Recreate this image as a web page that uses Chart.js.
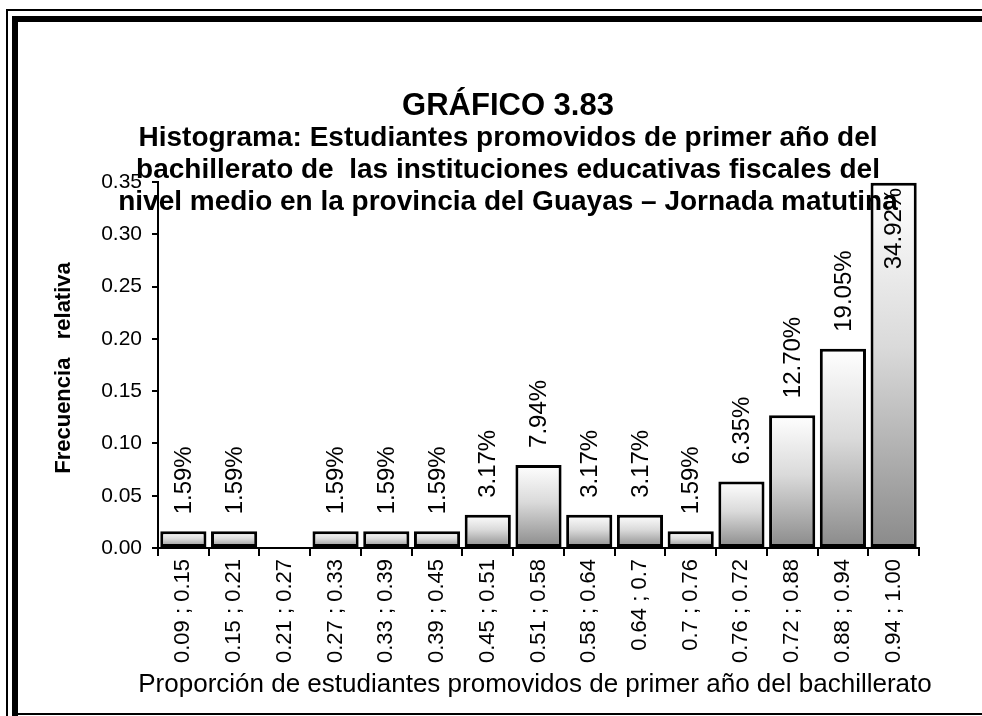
<!DOCTYPE html>
<html>
<head>
<meta charset="utf-8">
<title>Gráfico 3.83</title>
<script src="https://cdn.jsdelivr.net/npm/chart.js@4.4.1/dist/chart.umd.min.js"></script>
<style>
    html, body { margin: 0; padding: 0; background: #fff; }
    #wrap { width: 982px; height: 716px; }
</style>
</head>
<body>
<div id="wrap"><canvas id="histChart" width="982" height="716"></canvas></div>
<script>
// Data
const categories = [
    "0.09 ; 0.15", "0.15 ; 0.21", "0.21 ; 0.27", "0.27 ; 0.33", "0.33 ; 0.39",
    "0.39 ; 0.45", "0.45 ; 0.51", "0.51 ; 0.58", "0.58 ; 0.64", "0.64 ; 0.7",
    "0.7 ; 0.76", "0.76 ; 0.72", "0.72 ; 0.88", "0.88 ; 0.94", "0.94 ; 1.00"
];
const relFreq = [
    0.0159, 0.0159, 0, 0.0159, 0.0159,
    0.0159, 0.0317, 0.0794, 0.0317, 0.0317,
    0.0159, 0.0635, 0.1270, 0.1905, 0.3492
];
const yTicks = [0, 0.05, 0.10, 0.15, 0.20, 0.25, 0.30, 0.35];

const titleLines = [
    "GRÁFICO 3.83",
    "Histograma: Estudiantes promovidos de primer año del",
    "bachillerato de  las instituciones educativas fiscales del",
    "nivel medio en la provincia del Guayas – Jornada matutina"
];
const yTitle = "Frecuencia   relativa";
const xTitle = "Proporción de estudiantes promovidos de primer año del bachillerato";

const FONT = "Arial, 'Liberation Sans', sans-serif";

// Gray gradient inside every bar (white on top, gray at the base)
function barFill(c) {
    const chart = c.chart;
    if (!chart.chartArea || c.type !== "data") return "#cccccc";
    const y = chart.scales.y;
    const top = y.getPixelForValue(c.raw);
    const base = y.getPixelForValue(0);
    if (base - top < 1) return "#cccccc";
    const g = chart.ctx.createLinearGradient(0, top, 0, base);
    g.addColorStop(0, "#ffffff");
    g.addColorStop(0.45, "#dadada");
    g.addColorStop(1, "#8a8a8a");
    return g;
}

// Double frame round the picture
const framePlugin = {
    id: "frame",
    beforeDraw(chart) {
        const ctx = chart.ctx;
        ctx.save();
        ctx.fillStyle = "#fff";
        ctx.fillRect(0, 0, chart.width, chart.height);
        ctx.fillStyle = "#000";
        ctx.fillRect(6, 9, chart.width, 2);      // thin top
        ctx.fillRect(6, 9, 2, chart.height);     // thin left
        ctx.fillRect(12, 16, chart.width, 6);    // thick top
        ctx.fillRect(12, 16, 6, chart.height);   // thick left
        ctx.fillRect(12, 713, chart.width, 2);   // bottom line
        ctx.restore();
    }
};

// Titles drawn by hand so the last line can overlap the plot like the original
const textPlugin = {
    id: "texts",
    afterDraw(chart) {
        const ctx = chart.ctx;
        ctx.save();
        ctx.fillStyle = "#000";
        ctx.textAlign = "center";
        ctx.textBaseline = "middle";
        titleLines.forEach((line, i) => {
            ctx.font = (i === 0 ? "bold 31px " : "bold 28px ") + FONT;
            ctx.fillText(line, 508, 106 + i * 32);
        });

        ctx.font = "26px " + FONT;
        ctx.fillText(xTitle, 535, 685);

        ctx.translate(64, 368);
        ctx.rotate(-Math.PI / 2);
        ctx.font = "bold 22px " + FONT;
        ctx.fillText(yTitle, 0, 0);
        ctx.restore();
    }
};

// Percent labels over the bars
const valueLabels = {
    id: "valueLabels",
    afterDatasetsDraw(chart) {
        const ctx = chart.ctx;
        const meta = chart.getDatasetMeta(0);
        ctx.save();
        ctx.fillStyle = "#000";
        ctx.font = "24px " + FONT;
        ctx.textBaseline = "middle";
        meta.data.forEach((bar, i) => {
            const v = relFreq[i];
            if (!v) return;
            const txt = (v * 100).toFixed(2) + "%";
            const w = ctx.measureText(txt).width;
            ctx.save();
            if (bar.y - 12 - w < chart.chartArea.top - 5) {
                ctx.translate(bar.x, bar.y + 5);
                ctx.rotate(-Math.PI / 2);
                ctx.textAlign = "right";
            } else {
                ctx.translate(bar.x, bar.y - 17);
                ctx.rotate(-Math.PI / 2);
                ctx.textAlign = "left";
            }
            ctx.fillText(txt, 0, 1);
            ctx.restore();
        });
        ctx.restore();
    }
};

const ctx = document.getElementById("histChart").getContext("2d");
const histChart = new Chart(ctx, {
    type: "bar",
    data: {
        labels: categories,
        datasets: [{
            label: "Frecuencia relativa",
            data: relFreq,
            backgroundColor: barFill,
            borderColor: "#000",
            borderWidth: 3,
            borderSkipped: false,
            barPercentage: 0.91,
            categoryPercentage: 1
        }]
    },
    options: {
        responsive: false,
        animation: false,
        devicePixelRatio: 1,
        layout: { padding: { left: 0, right: 63, top: 182, bottom: 0 } },
        plugins: {
            legend: { display: false },
            title: { display: false },
            tooltip: { enabled: false }
        },
        scales: {
            x: {
                grid: { drawOnChartArea: false, drawTicks: true, color: "#000", lineWidth: 2, tickLength: 8, offset: true },
                border: { color: "#000", width: 2 },
                ticks: {
                    color: "#000",
                    font: { family: FONT, size: 22 },
                    minRotation: 90,
                    maxRotation: 90,
                    padding: 3,
                    autoSkip: false
                },
                afterFit(scale) { scale.height = 168; }
            },
            y: {
                min: 0,
                max: 0.35,
                afterBuildTicks(scale) { scale.ticks = yTicks.map(v => ({ value: v })); },
                grid: { drawOnChartArea: false, drawTicks: true, color: "#000", lineWidth: 2, tickLength: 6 },
                border: { color: "#000", width: 2 },
                ticks: {
                    color: "#000",
                    font: { family: FONT, size: 21 },
                    padding: 10,
                    callback: v => Number(v).toFixed(2)
                },
                afterFit(scale) { scale.width = 158; }
            }
        }
    },
    plugins: [framePlugin, valueLabels, textPlugin]
});
</script>
</body>
</html>
